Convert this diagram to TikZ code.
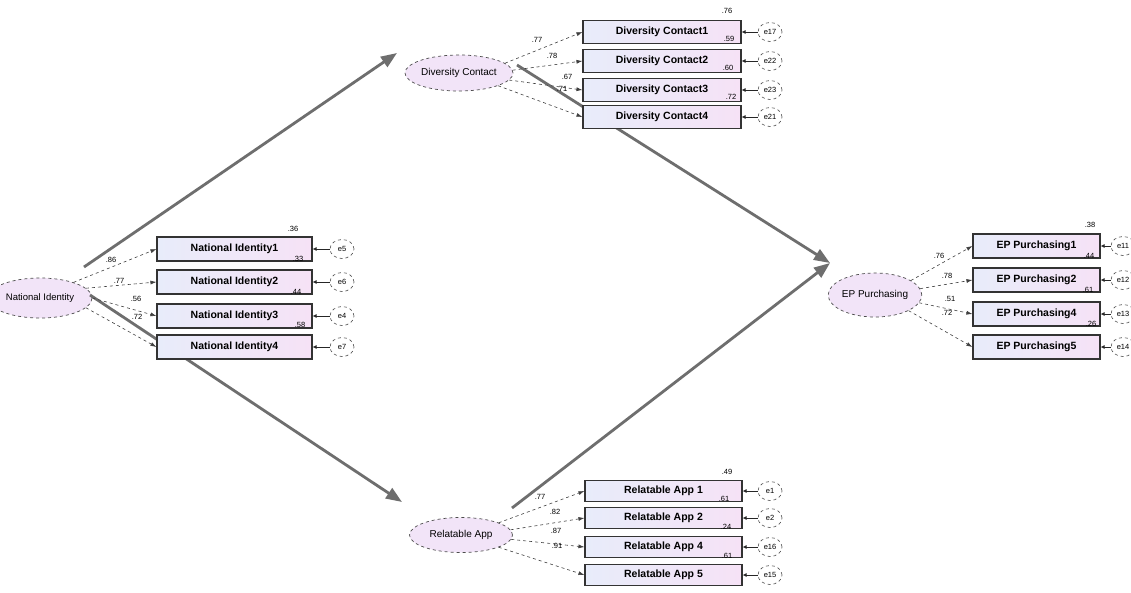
\documentclass[tikz,border=0pt]{standalone}
\usepackage{fontspec}
\setmainfont{Liberation Sans}
\usetikzlibrary{arrows.meta,shapes.geometric}
\definecolor{boxL}{RGB}{232,236,250}
\definecolor{boxR}{RGB}{246,226,246}
\definecolor{ellF}{RGB}{242,228,248}
\definecolor{pathgray}{RGB}{110,110,110}
\tikzset{
 obs/.style={draw=black!80, line width=1.1pt, minimum height=23pt, inner sep=0pt,
   left color=boxL, right color=boxR, font=\fontsize{10.5}{12}\selectfont\bfseries},
 lat/.style={ellipse, draw=black!70, dashed, line width=0.7pt, fill=ellF, inner sep=0pt,
   font=\fontsize{10}{12}\selectfont},
 err/.style={ellipse, draw=black!70, dashed, line width=0.6pt, fill=white, minimum width=24pt,
   minimum height=19pt, inner sep=0pt, font=\fontsize{7.5}{8}\selectfont},
 load/.style={draw=black!75, dashed, line width=0.6pt, -{Latex[length=6pt,width=4pt]}},
 erra/.style={draw=black!85, line width=0.8pt, -{Latex[length=4pt,width=4pt]}},
 struct/.style={draw=pathgray, line width=2.8pt, -{Triangle[length=16pt,width=12pt]}},
 num/.style={font=\fontsize{7.5}{8}\selectfont, inner sep=0pt},
}
\begin{document}
\begin{tikzpicture}[x=1pt,y=-1pt]
\useasboundingbox (0,0) rectangle (1131,592);
\fill[white] (0,0) rectangle (1131,592);
% latent variables
\node[lat, minimum width=108pt, minimum height=36pt] (DC) at (459,73) {Diversity Contact};
\node[lat, minimum width=104pt, minimum height=40pt, font=\fontsize{9.5}{11}\selectfont] (NI) at (40,298) {National Identity};
\node[lat, minimum width=90pt, minimum height=44pt] (EP) at (875,295) {EP Purchasing};
\node[lat, minimum width=103pt, minimum height=35pt] (RA) at (461,535) {Relatable App};
% structural paths
\draw[struct] ([shift={(44,-31)}]NI.center) -- ([shift={(-62,-20)}]DC.center);
\draw[struct] ([shift={(50,-3)}]NI.center) -- ([shift={(-59,-33)}]RA.center);
\draw[struct] ([shift={(58,-8)}]DC.center) -- ([shift={(-45,-32)}]EP.center);
\draw[struct] ([shift={(51,-27)}]RA.center) -- ([shift={(-45,-32)}]EP.center);
% top indicators
\foreach \i/\y/\e in {1/32/e17,2/61/e22,3/90/e23,4/117/e21}{
  \node[obs, minimum width=158pt] (DC\i) at (662,\y) {Diversity Contact\i};
  \node[err] (eDC\i) at (770,\y) {\e};
  \draw[erra] (eDC\i.west) -- (DC\i.east);
}
\draw[load] (DC.12) -- (DC1.west);
\draw[load] (DC.3) -- (DC2.west);
\draw[load] (DC.-8) -- (DC3.west);
\draw[load] (DC.-18) -- (DC4.west);
% left indicators
\foreach \i/\y/\e in {1/249/e5,2/282/e6,3/316/e4,4/347/e7}{
  \node[obs, minimum width=155pt, minimum height=24pt] (NI\i) at (234.5,\y) {National Identity\i};
  \node[err] (eNI\i) at (342,\y) {\e};
  \draw[erra] (eNI\i.west) -- (NI\i.east);
}
\draw[load] (NI.25) -- (NI1.west);
\draw[load] (NI.12) -- (NI2.west);
\draw[load] (NI.0) -- (NI3.west);
\draw[load] (NI.-12) -- (NI4.west);
% right indicators
\foreach \i/\n/\y/\e in {1/1/246/e11,2/2/280/e12,3/4/314/e13,4/5/347/e14}{
  \node[obs, minimum width=127pt, minimum height=24pt] (EP\i) at (1036.5,\y) {EP Purchasing\n};
  \node[err] (eEP\i) at (1123,\y) {\e};
  \draw[erra] (eEP\i.west) -- (EP\i.east);
}
\draw[load] (EP.22) -- (EP1.west);
\draw[load] (EP.8) -- (EP2.west);
\draw[load] (EP.-10) -- (EP3.west);
\draw[load] (EP.-25) -- (EP4.west);
% bottom indicators
\foreach \i/\n/\y/\e in {1/1/491/e1,2/2/518/e2,3/4/547/e16,4/5/575/e15}{
  \node[obs, minimum width=157pt, minimum height=21pt] (RA\i) at (663.5,\y) {Relatable App \n};
  \node[err] (eRA\i) at (770,\y) {\e};
  \draw[erra] (eRA\i.west) -- (RA\i.east);
}
\draw[load] (RA.18) -- (RA1.west);
\draw[load] (RA.6) -- (RA2.west);
\draw[load] (RA.-5) -- (RA3.west);
\draw[load] (RA.-18) -- (RA4.west);
% numbers top
\node[num] (nt0) at (727,11) {.76};
\node[num] (nt1) at (729,39) {.59};
\node[num] (nt2) at (728,68) {.60};
\node[num] (nt3) at (731,97) {.72};
\node[num] (lt1) at (537,40) {.77};
\node[num] (lt2) at (552,56) {.78};
\node[num] (lt3) at (567,77) {.67};
\node[num] (lt4) at (562,89) {.71};
% numbers left
\node[num] (nl0) at (293,229) {.36};
\node[num] (nl1) at (298,259) {.33};
\node[num] (nl2) at (296,292) {.44};
\node[num] (nl3) at (300,325) {.58};
\node[num] (ll1) at (111,260) {.86};
\node[num] (ll2) at (119,281) {.77};
\node[num] (ll3) at (136,299) {.56};
\node[num] (ll4) at (137,317) {.72};
% numbers right
\node[num] (nr0) at (1090,225) {.38};
\node[num] (nr1) at (1089,256) {.44};
\node[num] (nr2) at (1088,290) {.61};
\node[num] (nr3) at (1091,324) {.26};
\node[num] (lr1) at (939,256) {.76};
\node[num] (lr2) at (947,276) {.78};
\node[num] (lr3) at (950,299) {.51};
\node[num] (lr4) at (947,313) {.72};
% numbers bottom
\node[num] (nb0) at (727,472) {.49};
\node[num] (nb1) at (724,499) {.61};
\node[num] (nb2) at (726,527) {.24};
\node[num] (nb3) at (727,556) {.61};
\node[num] (lb1) at (540,497) {.77};
\node[num] (lb2) at (555,512) {.82};
\node[num] (lb3) at (556,531) {.87};
\node[num] (lb4) at (557,546) {.91};
\end{tikzpicture}
\end{document}
